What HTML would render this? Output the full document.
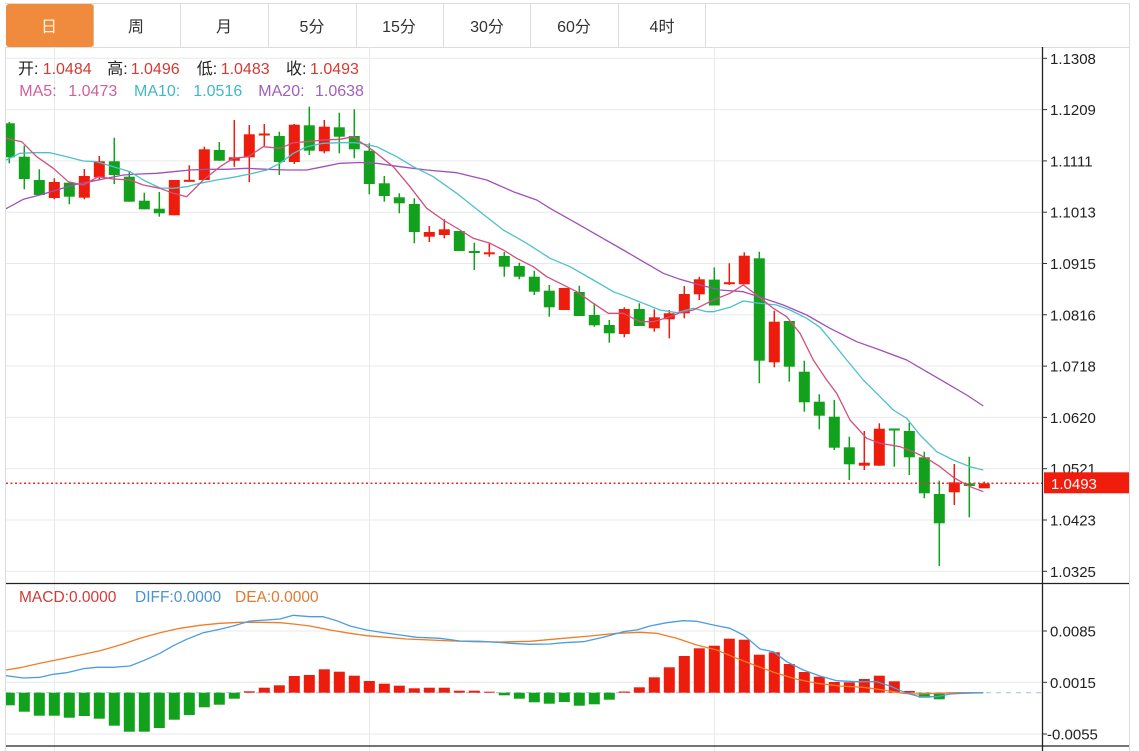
<!DOCTYPE html>
<html><head><meta charset="utf-8"><style>
html,body{margin:0;padding:0;background:#fff;}
body{width:1139px;height:751px;overflow:hidden;}
svg{display:block;font-family:"Liberation Sans","Noto Sans CJK SC",sans-serif;}
</style></head><body>
<svg width="1139" height="751" viewBox="0 0 1139 751" xmlns="http://www.w3.org/2000/svg">
<defs><clipPath id="pc"><rect x="6" y="47" width="1036" height="704"/></clipPath></defs>
<rect width="1139" height="751" fill="#fff"/>
<!-- tab bar -->
<g stroke="#dcdcdc" stroke-width="1" fill="none">
<line x1="5" y1="3.5" x2="1129" y2="3.5"/>
<line x1="5" y1="47.5" x2="1129" y2="47.5"/>
<line x1="93.5" y1="3" x2="93.5" y2="47"/>
<line x1="180.5" y1="3" x2="180.5" y2="47"/>
<line x1="268.5" y1="3" x2="268.5" y2="47"/>
<line x1="356.5" y1="3" x2="356.5" y2="47"/>
<line x1="443.5" y1="3" x2="443.5" y2="47"/>
<line x1="530.5" y1="3" x2="530.5" y2="47"/>
<line x1="618.5" y1="3" x2="618.5" y2="47"/>
<line x1="705.5" y1="3" x2="705.5" y2="47"/>
<line x1="1129.5" y1="3" x2="1129.5" y2="751"/>
<line x1="5.5" y1="47" x2="5.5" y2="751"/>
</g>
<rect x="6" y="4" width="87.5" height="43" rx="3" fill="#f08a3c"/>
<g font-size="16" text-anchor="middle" fill="#333">
<text x="49" y="32" fill="#fff4dc">日</text>
<text x="136" y="32">周</text>
<text x="224" y="32">月</text>
<text x="312" y="32">5分</text>
<text x="399" y="32">15分</text>
<text x="487" y="32">30分</text>
<text x="574" y="32">60分</text>
<text x="662" y="32">4时</text>
</g>
<!-- grid -->
<g stroke="#e6e9ee" stroke-width="1">
<line x1="54.5" y1="47" x2="54.5" y2="751"/>
<line x1="369.5" y1="47" x2="369.5" y2="751"/>
<line x1="714.5" y1="47" x2="714.5" y2="751"/>
<line x1="6" y1="58.3" x2="1042" y2="58.3"/>
<line x1="6" y1="109.6" x2="1042" y2="109.6"/>
<line x1="6" y1="160.9" x2="1042" y2="160.9"/>
<line x1="6" y1="212.2" x2="1042" y2="212.2"/>
<line x1="6" y1="263.5" x2="1042" y2="263.5"/>
<line x1="6" y1="314.8" x2="1042" y2="314.8"/>
<line x1="6" y1="366.1" x2="1042" y2="366.1"/>
<line x1="6" y1="417.4" x2="1042" y2="417.4"/>
<line x1="6" y1="468.7" x2="1042" y2="468.7"/>
<line x1="6" y1="520" x2="1042" y2="520"/>
<line x1="6" y1="571.3" x2="1042" y2="571.3"/>
<line x1="6" y1="631" x2="1042" y2="631"/>
<line x1="6" y1="682.3" x2="1042" y2="682.3"/>
<line x1="6" y1="734" x2="1042" y2="734"/>
</g>
<line x1="6" y1="692.7" x2="1042" y2="692.7" stroke="#a9c8e2" stroke-width="1.2" stroke-dasharray="5,5"/>
<!-- header text -->
<g font-size="16">
<text x="18" y="74" fill="#222">开:</text><text x="42.7" y="74" fill="#d23a32">1.0484</text>
<text x="107.3" y="74" fill="#222">高:</text><text x="130.7" y="74" fill="#d23a32">1.0496</text>
<text x="196.7" y="74" fill="#222">低:</text><text x="220.7" y="74" fill="#d23a32">1.0483</text>
<text x="286" y="74" fill="#222">收:</text><text x="310" y="74" fill="#d23a32">1.0493</text>
<text x="19.3" y="96" fill="#d0609a">MA5:</text><text x="68.3" y="96" fill="#d0609a">1.0473</text>
<text x="134" y="96" fill="#3fb8c8">MA10:</text><text x="193.3" y="96" fill="#3fb8c8">1.0516</text>
<text x="258.3" y="96" fill="#a060b8">MA20:</text><text x="315" y="96" fill="#a060b8">1.0638</text>
</g>
<g font-size="15.5">
<text x="19" y="602" fill="#d23a3a">MACD:0.0000</text>
<text x="135" y="602" fill="#4a92d2">DIFF:0.0000</text>
<text x="235" y="602" fill="#e07a30">DEA:0.0000</text>
</g>
<g clip-path="url(#pc)">
<!-- green candles -->
<g fill="#12a11c" stroke="#12a11c">
<g stroke-width="1.5">
<line x1="9.3" y1="122" x2="9.3" y2="163.3"/><line x1="24.3" y1="145.7" x2="24.3" y2="189.3"/><line x1="39.3" y1="169.3" x2="39.3" y2="195"/><line x1="69.3" y1="182.7" x2="69.3" y2="204.3"/><line x1="114.3" y1="137.7" x2="114.3" y2="184"/><line x1="129.3" y1="171" x2="129.3" y2="201.7"/><line x1="144.3" y1="192.7" x2="144.3" y2="209.3"/><line x1="159.3" y1="192" x2="159.3" y2="216.7"/><line x1="219.3" y1="142" x2="219.3" y2="160.7"/><line x1="279.3" y1="131.7" x2="279.3" y2="175"/><line x1="309.3" y1="106.7" x2="309.3" y2="155"/><line x1="339.3" y1="112.7" x2="339.3" y2="153.3"/><line x1="354.3" y1="109.3" x2="354.3" y2="158.3"/><line x1="369.3" y1="143.3" x2="369.3" y2="194.3"/><line x1="384.3" y1="176" x2="384.3" y2="201.7"/><line x1="399.3" y1="193.3" x2="399.3" y2="213.3"/><line x1="414.3" y1="198.3" x2="414.3" y2="243.3"/><line x1="459.3" y1="231" x2="459.3" y2="251"/><line x1="474.3" y1="242.7" x2="474.3" y2="270"/><line x1="504.3" y1="252" x2="504.3" y2="276.7"/><line x1="519.3" y1="262.7" x2="519.3" y2="279.3"/><line x1="534.3" y1="270.7" x2="534.3" y2="295"/><line x1="549.3" y1="285" x2="549.3" y2="316.7"/><line x1="579.3" y1="285.7" x2="579.3" y2="316"/><line x1="594.3" y1="303.3" x2="594.3" y2="326.7"/><line x1="609.3" y1="320" x2="609.3" y2="342.7"/><line x1="639.3" y1="303.3" x2="639.3" y2="326"/><line x1="714.3" y1="267.5" x2="714.3" y2="305.5"/><line x1="759.3" y1="251.7" x2="759.3" y2="383.3"/><line x1="789.3" y1="321" x2="789.3" y2="381.7"/><line x1="804.3" y1="360.7" x2="804.3" y2="411.7"/><line x1="819.3" y1="394.3" x2="819.3" y2="429.3"/><line x1="834.3" y1="400" x2="834.3" y2="450"/><line x1="849.3" y1="436.7" x2="849.3" y2="480"/><line x1="894.3" y1="428.7" x2="894.3" y2="466.7"/><line x1="909.3" y1="422.7" x2="909.3" y2="475"/><line x1="924.3" y1="451.7" x2="924.3" y2="498.3"/><line x1="939.3" y1="480.7" x2="939.3" y2="566"/><line x1="969.3" y1="456.7" x2="969.3" y2="517.3"/>
</g>
<g stroke="none">
<rect x="3.8" y="123.3" width="11" height="34"/><rect x="18.8" y="156.7" width="11" height="22.3"/><rect x="33.8" y="180" width="11" height="15"/><rect x="63.8" y="182.7" width="11" height="14"/><rect x="108.8" y="161.3" width="11" height="13.7"/><rect x="123.8" y="176.7" width="11" height="25"/><rect x="138.8" y="200.7" width="11" height="8.6"/><rect x="153.8" y="208.7" width="11" height="4.6"/><rect x="213.8" y="150" width="11" height="10.7"/><rect x="273.8" y="136" width="11" height="26"/><rect x="303.8" y="125.3" width="11" height="25.4"/><rect x="333.8" y="127.3" width="11" height="9.4"/><rect x="348.8" y="136" width="11" height="13.3"/><rect x="363.8" y="150.7" width="11" height="33.3"/><rect x="378.8" y="183.3" width="11" height="12.7"/><rect x="393.8" y="197.3" width="11" height="6"/><rect x="408.8" y="204" width="11" height="28"/><rect x="453.8" y="231" width="11" height="20"/><rect x="468.8" y="251" width="11" height="2"/><rect x="498.8" y="256" width="11" height="10.7"/><rect x="513.8" y="266" width="11" height="10.7"/><rect x="528.8" y="276.7" width="11" height="15"/><rect x="543.8" y="290.7" width="11" height="16.6"/><rect x="573.8" y="292" width="11" height="24"/><rect x="588.8" y="315" width="11" height="10.3"/><rect x="603.8" y="325" width="11" height="8.3"/><rect x="633.8" y="309" width="11" height="17"/><rect x="708.8" y="279.6" width="11" height="25.9"/><rect x="753.8" y="258.3" width="11" height="102.4"/><rect x="783.8" y="321" width="11" height="45.7"/><rect x="798.8" y="371.7" width="11" height="30.6"/><rect x="813.8" y="401.7" width="11" height="14"/><rect x="828.8" y="416.7" width="11" height="31"/><rect x="843.8" y="447.3" width="11" height="17"/><rect x="888.8" y="428.5" width="11" height="2"/><rect x="903.8" y="431" width="11" height="26.3"/><rect x="918.8" y="457.3" width="11" height="36"/><rect x="933.8" y="494" width="11" height="29.3"/><rect x="963.8" y="483.3" width="11" height="2.7"/>
</g>
</g>
<!-- red candles -->
<g fill="#ee1c0c" stroke="#ee1c0c">
<g stroke-width="1.5">
<line x1="54.3" y1="178.3" x2="54.3" y2="199.3"/><line x1="84.3" y1="169" x2="84.3" y2="199.3"/><line x1="99.3" y1="156" x2="99.3" y2="180"/><line x1="174.3" y1="180" x2="174.3" y2="215.3"/><line x1="189.3" y1="165.3" x2="189.3" y2="181.7"/><line x1="204.3" y1="146.7" x2="204.3" y2="180"/><line x1="234.3" y1="120" x2="234.3" y2="166.7"/><line x1="249.3" y1="125" x2="249.3" y2="182"/><line x1="264.3" y1="124" x2="264.3" y2="146"/><line x1="294.3" y1="124" x2="294.3" y2="164"/><line x1="324.3" y1="120" x2="324.3" y2="153.3"/><line x1="429.3" y1="226" x2="429.3" y2="242"/><line x1="444.3" y1="219.3" x2="444.3" y2="238.3"/><line x1="489.3" y1="243.3" x2="489.3" y2="256.7"/><line x1="564.3" y1="288" x2="564.3" y2="310"/><line x1="624.3" y1="307.3" x2="624.3" y2="337.3"/><line x1="654.3" y1="309.3" x2="654.3" y2="331.7"/><line x1="669.3" y1="310" x2="669.3" y2="338.3"/><line x1="684.3" y1="286" x2="684.3" y2="318.3"/><line x1="699.3" y1="276.7" x2="699.3" y2="300"/><line x1="729.3" y1="263.3" x2="729.3" y2="285"/><line x1="744.3" y1="252.3" x2="744.3" y2="284.3"/><line x1="774.3" y1="310.7" x2="774.3" y2="367.3"/><line x1="864.3" y1="431" x2="864.3" y2="470"/><line x1="879.3" y1="423.3" x2="879.3" y2="465.7"/><line x1="954.3" y1="464" x2="954.3" y2="505"/><line x1="984.3" y1="481.7" x2="984.3" y2="488.3"/>
</g>
<g stroke="none">
<rect x="48.8" y="182" width="11" height="16"/><rect x="78.8" y="176" width="11" height="21.7"/><rect x="93.8" y="161.3" width="11" height="16"/><rect x="168.8" y="180" width="11" height="35.3"/><rect x="183.8" y="179.8" width="11" height="2"/><rect x="198.8" y="149.3" width="11" height="30.7"/><rect x="228.8" y="157.3" width="11" height="3.4"/><rect x="243.8" y="134.3" width="11" height="23"/><rect x="258.8" y="133.5" width="11" height="2"/><rect x="288.8" y="124.7" width="11" height="37.3"/><rect x="318.8" y="126.7" width="11" height="24.6"/><rect x="423.8" y="232" width="11" height="4.7"/><rect x="438.8" y="229.3" width="11" height="5.7"/><rect x="483.8" y="252.3" width="11" height="2"/><rect x="558.8" y="288" width="11" height="22"/><rect x="618.8" y="309" width="11" height="25"/><rect x="648.8" y="317.3" width="11" height="11"/><rect x="663.8" y="313.3" width="11" height="6"/><rect x="678.8" y="294" width="11" height="19.3"/><rect x="693.8" y="279.3" width="11" height="15"/><rect x="723.8" y="282.2" width="11" height="2"/><rect x="738.8" y="255.7" width="11" height="28.6"/><rect x="768.8" y="321.7" width="11" height="40.6"/><rect x="858.8" y="462.7" width="11" height="3"/><rect x="873.8" y="428.7" width="11" height="37"/><rect x="948.8" y="482.3" width="11" height="10"/><rect x="978.8" y="483.3" width="11" height="5"/>
</g>
</g>
<!-- MA lines -->
<g fill="none" stroke-width="1.3" stroke-linejoin="round">
<polyline stroke="#a050b8" points="6,208.7 23.3,199.3 40,195 56.7,190 73.3,185 90,181.7 106.7,178.3 123.3,175 140,174 156.7,173.3 173.3,171.7 190,170 206.7,169.3 226.7,169.3 246.7,168.3 266.7,169.3 286.7,170 306.7,170 323.3,166.7 340,163.3 360,162.5 376.7,163.3 400,166.7 426.7,170 456.7,172.7 486.7,180 513.3,191.7 536.7,200 550,208.3 576.7,223.3 600,236.7 623.3,250 643.3,261.7 663.3,273.3 680,279.3 700,285 720,290 743.3,291.7 763.3,298.3 783.3,305 806.7,315 830,328.3 856.7,341.7 880,350 906.7,360 926.7,371.7 946.7,383.3 966.7,395 983.3,406"/>
<polyline stroke="#4ec0cc" points="6,160 20,153.3 33.3,152.7 50,152.7 66.7,156.7 83.3,161 96.7,161.7 113.3,166.7 130,171.7 143.3,180 160,188 173.3,188.3 186.7,186.7 200,183.3 216.7,180 233.3,177.3 250,174 266.7,170 280,163.3 293.3,153.3 306.7,146.7 323.3,143.3 340,142.7 353.3,142.7 360,143.3 376.7,146.7 396.7,156.7 413.3,166.7 433.3,176.7 456.7,193.3 480,211.7 503.3,230 526.7,243.3 550,258.3 570,266.7 593.3,280 613.3,291.7 626.7,296.7 643.3,303.3 660,310 676.7,312.7 693.3,308.3 706.7,311.7 713.3,311.7 730,307.3 743.3,301 760,303.3 776.7,305 790,310 806.7,318.3 820,327.3 833.3,343.3 846.7,360 863.3,380 880,396.7 893.3,410 906.7,418.3 920,435 936.7,451.7 953.3,460 970,466.7 983.3,470"/>
<polyline stroke="#d0507f" points="6,138.3 21.7,141.7 36.7,156.7 53.3,168.3 68.3,181.7 83.3,185 98.3,176.7 113.3,179 130,180 143.3,185 160,188.3 173.3,193.3 186.7,196.7 203.3,180 220,166.7 233.3,158.3 248.3,156.7 263.3,146.7 280,148.3 293.3,142.7 306.7,141.7 323.3,140 340,139.3 353.3,136.7 360,141.7 373.3,150.7 393.3,166.7 410,186.7 426.7,208.3 443.3,220 460,230 473.3,238.3 490,243.3 503.3,250 516.7,258.3 533.3,266.7 546.7,276.7 560,283.3 576.7,291.7 593.3,303.3 608.3,313.3 623.3,313.3 640,321.7 653.3,321.7 670,316.7 680,312.7 693.3,310 706.7,303.3 713.3,300 730,293.3 743.3,285 756.7,295 773.3,308.3 786.7,316.7 800,333.3 813.3,360 826.7,380 836.7,393.3 850,420 866.7,438.3 880,443.3 900,446.7 913.3,451.7 926.7,458.3 940,466.7 953.3,477.3 970,486.7 983.3,491.7"/>
</g>
<line x1="6" y1="483.3" x2="1042" y2="483.3" stroke="#e0302a" stroke-width="1.5" stroke-dasharray="2,2.5"/>
<!-- MACD bars -->
<g fill="#12a11c">
<rect x="3.8" y="692.7" width="11" height="12.6"/><rect x="18.8" y="692.7" width="11" height="19"/><rect x="33.8" y="692.7" width="11" height="23"/><rect x="48.8" y="692.7" width="11" height="23"/><rect x="63.8" y="692.7" width="11" height="25"/><rect x="78.8" y="692.7" width="11" height="23.3"/><rect x="93.8" y="692.7" width="11" height="26"/><rect x="108.8" y="692.7" width="11" height="33"/><rect x="123.8" y="692.7" width="11" height="39"/><rect x="138.8" y="692.7" width="11" height="39"/><rect x="153.8" y="692.7" width="11" height="35.3"/><rect x="168.8" y="692.7" width="11" height="27"/><rect x="183.8" y="692.7" width="11" height="22.3"/><rect x="198.8" y="692.7" width="11" height="14.6"/><rect x="213.8" y="692.7" width="11" height="12"/><rect x="228.8" y="692.7" width="11" height="6"/>
<rect x="498.8" y="692.7" width="11" height="2.6"/><rect x="513.8" y="692.7" width="11" height="6"/><rect x="528.8" y="692.7" width="11" height="9.6"/><rect x="543.8" y="692.7" width="11" height="11"/><rect x="558.8" y="692.7" width="11" height="9.3"/><rect x="573.8" y="692.7" width="11" height="13"/><rect x="588.8" y="692.7" width="11" height="11.6"/><rect x="603.8" y="692.7" width="11" height="7"/>
<rect x="918.8" y="692.7" width="11" height="5"/><rect x="933.8" y="692.7" width="11" height="6.6"/>
</g>
<g fill="#ee1c0c">
<rect x="243.8" y="691.3" width="11" height="1.4"/><rect x="258.8" y="687.7" width="11" height="5"/><rect x="273.8" y="685.3" width="11" height="7.4"/><rect x="288.8" y="676" width="11" height="16.7"/><rect x="303.8" y="675" width="11" height="17.7"/><rect x="318.8" y="669.3" width="11" height="23.4"/><rect x="333.8" y="671.7" width="11" height="21"/><rect x="348.8" y="675.7" width="11" height="17"/><rect x="363.8" y="681" width="11" height="11.7"/><rect x="378.8" y="683.7" width="11" height="9"/><rect x="393.8" y="685.7" width="11" height="7"/><rect x="408.8" y="688.3" width="11" height="4.4"/><rect x="423.8" y="687.7" width="11" height="5"/><rect x="438.8" y="687.7" width="11" height="5"/><rect x="453.8" y="690.7" width="11" height="2"/><rect x="468.8" y="690.7" width="11" height="2"/><rect x="483.8" y="691.7" width="11" height="1"/>
<rect x="618.8" y="691.5" width="11" height="1.2"/><rect x="633.8" y="687.3" width="11" height="5.4"/><rect x="648.8" y="677.3" width="11" height="15.4"/><rect x="663.8" y="667.3" width="11" height="25.4"/><rect x="678.8" y="656" width="11" height="36.7"/><rect x="693.8" y="648.3" width="11" height="44.4"/><rect x="708.8" y="645.7" width="11" height="47"/><rect x="723.8" y="638.7" width="11" height="54"/><rect x="738.8" y="639.7" width="11" height="53"/><rect x="753.8" y="654.7" width="11" height="38"/><rect x="768.8" y="652.3" width="11" height="40.4"/><rect x="783.8" y="664" width="11" height="28.7"/><rect x="798.8" y="672" width="11" height="20.7"/><rect x="813.8" y="676.7" width="11" height="16"/><rect x="828.8" y="682" width="11" height="10.7"/><rect x="843.8" y="682.3" width="11" height="10.4"/><rect x="858.8" y="679" width="11" height="13.7"/><rect x="873.8" y="675.7" width="11" height="17"/><rect x="888.8" y="681.3" width="11" height="11.4"/><rect x="903.8" y="691" width="11" height="1.7"/>
</g>
<g fill="none" stroke-width="1.3" stroke-linejoin="round">
<polyline stroke="#f07c28" points="6,670 20,667.7 40,663.3 60,659.3 80,655 100,650.7 120,645 140,638.3 160,632.7 180,628.3 200,625.3 220,623.3 240,622.3 260,622.3 280,622.7 293.3,624 310,626 330,630 350,633.3 366.7,635.7 386.7,637.3 406.7,639 430,640 453.3,641 476.7,641.7 500,642 530,641.3 563.3,638.3 590,636 616.7,633.3 640,632.3 656.7,633.3 676.7,638.3 696.7,645 716.7,650 736.7,658.3 756.7,666 776.7,673.3 796.7,679.3 816.7,683.3 840,686 863.3,687.3 883.3,690 903.3,693.3 916.7,694 936.7,693.3 956.7,692.7 983.3,692.7"/>
<polyline stroke="#4a9ee0" points="6,675.7 23.3,678 40,677.3 53.3,674.3 66.7,672.7 83.3,668.7 96.7,667.3 113.3,667.3 130,666 146.7,659.3 160,653.3 173.3,645.7 186.7,639.3 203.3,632.7 220,629.3 233.3,626 250,621 266.7,620 280,619 293.3,615.3 310,616.7 323.3,616.7 336.7,620.7 350,626 366.7,630 383.3,632.7 400,635 416.7,637.3 440,638.3 460,641 480,641.3 500,642.5 510,643.3 530,644.3 550,644 563.3,642.7 583.3,641.7 603.3,637.3 623.3,631.7 636.7,630 650,626 666.7,622.7 683.3,620.7 696.7,621.3 713.3,625 730,628.3 743.3,635 753.3,643.3 760,649 773.3,651.7 786.7,661.7 803.3,670 820,676 836.7,680.7 856.7,681.7 876.7,681.7 890,686 906.7,693.3 920,696.7 936.7,696.7 950,694 963.3,693.3 983.3,692.7"/>
</g>
</g>
<!-- frame lines -->
<g stroke="#222" stroke-width="1.3">
<line x1="6" y1="583.5" x2="1129" y2="583.5"/>
<line x1="6" y1="746" x2="1129" y2="746"/>
<line x1="1042.5" y1="47" x2="1042.5" y2="751"/>
</g>
<g stroke="#333" stroke-width="1">
<line x1="1042" y1="58.3" x2="1047" y2="58.3"/><line x1="1042" y1="109.6" x2="1047" y2="109.6"/><line x1="1042" y1="160.9" x2="1047" y2="160.9"/><line x1="1042" y1="212.2" x2="1047" y2="212.2"/><line x1="1042" y1="263.5" x2="1047" y2="263.5"/><line x1="1042" y1="314.8" x2="1047" y2="314.8"/><line x1="1042" y1="366.1" x2="1047" y2="366.1"/><line x1="1042" y1="417.4" x2="1047" y2="417.4"/><line x1="1042" y1="468.7" x2="1047" y2="468.7"/><line x1="1042" y1="520" x2="1047" y2="520"/><line x1="1042" y1="571.3" x2="1047" y2="571.3"/><line x1="1042" y1="631" x2="1047" y2="631"/><line x1="1042" y1="682.3" x2="1047" y2="682.3"/><line x1="1042" y1="734" x2="1047" y2="734"/>
</g>
<g font-size="15" fill="#222">
<text x="1050" y="63.8">1.1308</text>
<text x="1050" y="115.1">1.1209</text>
<text x="1050" y="166.4">1.1111</text>
<text x="1050" y="217.7">1.1013</text>
<text x="1050" y="269">1.0915</text>
<text x="1050" y="320.3">1.0816</text>
<text x="1050" y="371.6">1.0718</text>
<text x="1050" y="422.9">1.0620</text>
<text x="1050" y="474.2">1.0521</text>
<text x="1050" y="525.5">1.0423</text>
<text x="1050" y="576.8">1.0325</text>
<text x="1050" y="636.5">0.0085</text>
<text x="1050" y="687.8">0.0015</text>
<text x="1047" y="739.5">-0.0055</text>
</g>
<rect x="1044" y="472.3" width="85" height="21" fill="#f01c0c"/>
<text x="1051" y="488.8" font-size="15" fill="#fff">1.0493</text>
</svg>
</body></html>
